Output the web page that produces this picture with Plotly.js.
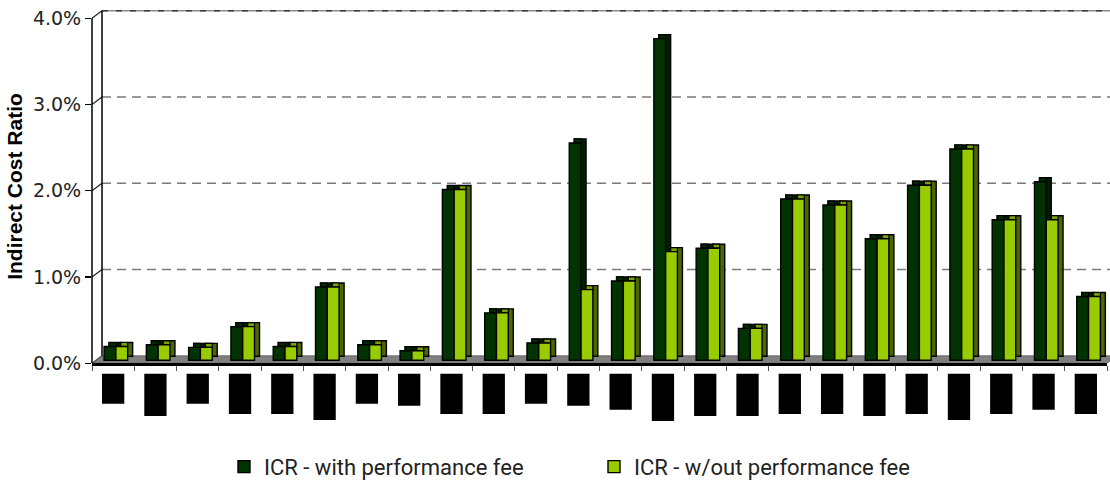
<!DOCTYPE html>
<html>
<head>
<meta charset="utf-8">
<script src="https://cdn.plot.ly/plotly-3.0.1.min.js"></script>
<style>html,body{margin:0;padding:0;background:#fff;}#chart{width:1110px;height:482px;}</style>
</head>
<body>
<div id="chart"></div>
<script>
// ---- data ----
const categories = ['Fund 1','Fund 2','Fund 3','Fund 4','Fund 5','Fund 6','Fund 7','Fund 8',
  'Fund 9','Fund 10','Fund 11','Fund 12','Fund 13','Fund 14','Fund 15','Fund 16',
  'Fund 17','Fund 18','Fund 19','Fund 20','Fund 21','Fund 22','Fund 23','Fund 24'];
const icrWithFee    = [0.16,0.18,0.15,0.39,0.16,0.85,0.18,0.11,1.98,0.55,0.20,2.52,0.92,3.73,1.30,0.37,1.87,1.80,1.41,2.03,2.45,1.63,2.07,0.74];
const icrWithoutFee = [0.16,0.18,0.15,0.39,0.16,0.85,0.18,0.11,1.98,0.55,0.20,0.82,0.92,1.26,1.30,0.37,1.87,1.80,1.41,2.03,2.45,1.63,1.63,0.74];
// redacted category labels: relative length of each (hidden) label
const labelLengths  = [30,42,30,40,40,46,30,32,40,40,30,32,36,47,42,42,40,40,42,40,46,40,36,40];
const yTickValues = [0,1,2,3,4];
const yTickLabels = ['0.0%','1.0%','2.0%','3.0%','4.0%'];
const seriesNames = ['ICR - with performance fee','ICR - w/out performance fee'];

// ---- geometry / style ----
const W = 1110, H = 482, ML = 92, MR = 3;
const plotW = W - ML - MR;
const catPx = plotW / categories.length;
const yTopPx = 9.7, yBotPx = 363.3, yMax = 4.1;
const pxPerUnit = (yBotPx - yTopPx) / yMax;
const ux = px => px / catPx;        // px -> category units
const uy = px => px / pxPerUnit;    // px -> value units

const barW = ux(11.8);
const darkOff = ux(-9.1);
const lightOff = darkOff + barW;
const depthX = ux(5), depthY = uy(4), lift = uy(3);
const wallDx = 10 / plotW, wallDy = uy(7.5);

function series(vals, off, front, side, top, name) {
  const d = [];
  // side / back extrusion
  d.push({type:'bar', x:categories, y:vals, base:vals.map(()=>lift+depthY),
    offset:off+depthX, width:barW, marker:{color:side, line:{color:'#000', width:1.4}},
    showlegend:false, hoverinfo:'skip'});
  // top face
  d.push({type:'bar', x:categories, y:vals.map(()=>depthY), base:vals.map(v=>v+lift),
    offset:off+depthX, width:barW-depthX, marker:{color:top, line:{color:'#000', width:1.2}},
    showlegend:false, hoverinfo:'skip'});
  // front face
  d.push({type:'bar', x:categories, y:vals, base:vals.map(()=>lift), name:name,
    offset:off, width:barW, marker:{color:front, line:{color:'#000', width:1.4}},
    hovertemplate:'%{x}: %{y:.2f}%<extra></extra>'});
  return d;
}

const traces = [].concat(
  series(icrWithFee, darkOff, '#003300', '#001f00', '#002a00', seriesNames[0]),
  series(icrWithoutFee, lightOff, '#99cc00', '#4c6600', '#7a9f00', seriesNames[1])
);
traces.push({type:'bar', x:categories, y:labelLengths.map(v=>-v), yaxis:'y2',
  offset:ux(-11.15), width:ux(22.3), marker:{color:'#000', line:{width:0}},
  showlegend:false, hoverinfo:'skip'});

const shapes = [];
// floor
shapes.push({type:'path', xref:'paper', yref:'y',
  path:`M0,0 L1,0 L${1+wallDx},${wallDy} L${wallDx},${wallDy} Z`,
  fillcolor:'#808080', line:{color:'#5a5a5a', width:0.8}, layer:'below'});
// back-wall gridlines and side-wall edges
yTickValues.forEach(t => {
  if (t > 0) {
    if (t === 4) {
      shapes.push({type:'line', xref:'paper', yref:'y', x0:wallDx, x1:1.01, y0:t+wallDy, y1:t+wallDy,
        line:{color:'#8c8c8c', width:1.6}, layer:'below'});
      shapes.push({type:'line', xref:'paper', yref:'y', x0:wallDx, x1:1.01, y0:t+wallDy, y1:t+wallDy,
        line:{color:'#3c3c3c', width:1.6, dash:'6px,8px'}, layer:'below'});
    } else {
      shapes.push({type:'line', xref:'paper', yref:'y', x0:wallDx, x1:1.01, y0:t+wallDy, y1:t+wallDy,
        line:{color:'#7a7a7a', width:1.5, dash:'9px,6px'}, layer:'below'});
    }
  }
  shapes.push({type:'line', xref:'paper', yref:'y', x0:0, x1:wallDx, y0:t, y1:t+wallDy,
    line:{color:t===0?'#555':'#222', width:1.2}, layer:'below'});
});
// back wall vertical edge and front axis line
shapes.push({type:'line', xref:'paper', yref:'y', x0:wallDx, x1:wallDx, y0:wallDy, y1:4+wallDy,
  line:{color:'#000', width:1.5}, layer:'below'});
shapes.push({type:'line', xref:'paper', yref:'y', x0:0, x1:0, y0:0, y1:4,
  line:{color:'#000', width:1.5}});

const layout = {
  width:W, height:H,
  margin:{l:ML, r:MR, t:0, b:0, autoexpand:false},
  paper_bgcolor:'#fff', plot_bgcolor:'rgba(0,0,0,0)',
  barmode:'overlay',
  showlegend:true,
  xaxis:{type:'category', categoryorder:'array', categoryarray:categories,
    range:[-0.5, categories.length-0.5], showticklabels:false,
    showline:true, linecolor:'#000', linewidth:2.2, showgrid:false, zeroline:false,
    ticks:'outside', tickson:'boundaries', ticklen:5, tickcolor:'#555', tickwidth:1,
    fixedrange:true},
  yaxis:{domain:[(H-yBotPx)/H, (H-yTopPx)/H], range:[0, yMax],
    tickmode:'array', tickvals:yTickValues, ticktext:yTickLabels,
    ticks:'outside', ticklen:6, tickcolor:'#000', tickwidth:1.2,
    showline:false, showgrid:false, zeroline:false,
    tickfont:{family:'DejaVu Sans', size:19, color:'#222'},
    title:{text:'Indirect Cost Ratio', standoff:4,
      font:{family:'Liberation Sans, Arial', size:21, weight:700, color:'#000'}},
    fixedrange:true},
  yaxis2:{domain:[(H-424)/H, (H-373.5)/H], range:[-50, 0], visible:false, fixedrange:true},
  legend:{orientation:'h', x:(224-ML)/plotW, xanchor:'left', y:-0.012, yanchor:'bottom',
    font:{family:'Roboto', size:22, color:'#222'}, entrywidth:325, entrywidthmode:'pixels',
    bgcolor:'rgba(0,0,0,0)', traceorder:'normal'},
  shapes:shapes
};

Plotly.newPlot('chart', traces, layout, {displayModeBar:false, staticPlot:true});
</script>
</body>
</html>
